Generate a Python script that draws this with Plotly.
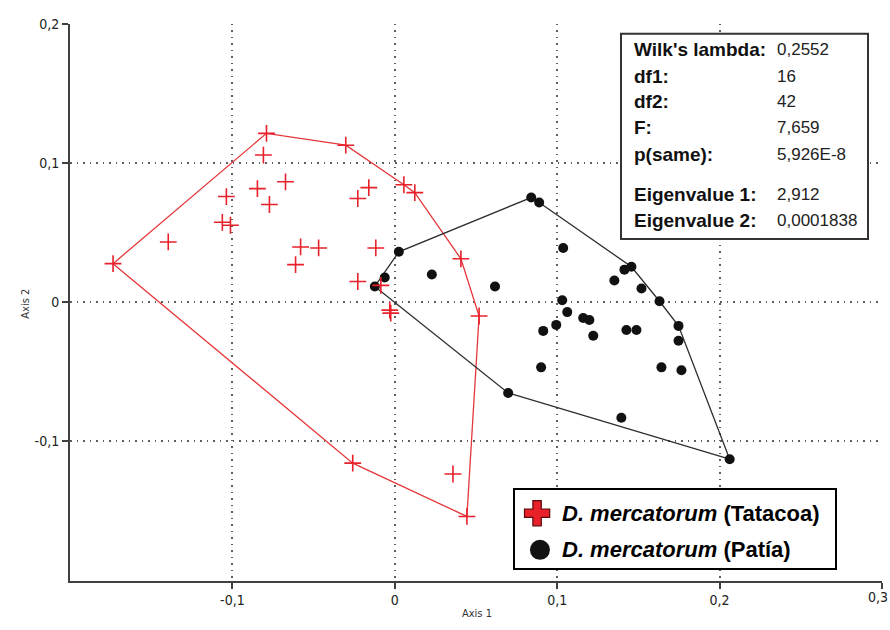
import plotly.graph_objects as go

# Discriminant scores of the two populations (Axis 1, Axis 2)
tatacoa_x = [-0.1735, -0.1395, -0.0790, -0.0809, -0.1037, -0.0846, -0.0673, -0.0772,
             -0.1062, -0.1012, -0.0580, -0.0469, -0.0611, -0.0302, -0.0228, -0.0160,
             -0.0117, -0.0228, 0.0056, 0.0123, 0.0407, 0.0519, -0.0031, -0.0025,
             -0.0086, -0.0259, 0.0358, 0.0444]
tatacoa_y = [0.0277, 0.0433, 0.1213, 0.1057, 0.0759, 0.0816, 0.0865, 0.0702,
             0.0574, 0.0553, 0.0397, 0.0390, 0.0270, 0.1128, 0.0745, 0.0823,
             0.0390, 0.0149, 0.0844, 0.0787, 0.0312, -0.0099, -0.0057, -0.0078,
             0.0121, -0.1156, -0.1234, -0.1539]

patia_x = [-0.0123, -0.0062, 0.0025, 0.0228, 0.0617, 0.0840, 0.0889, 0.1037,
           0.1031, 0.1062, 0.1160, 0.1198, 0.1222, 0.0994, 0.0914, 0.1352,
           0.1414, 0.1457, 0.1519, 0.1630, 0.1747, 0.1747, 0.1426, 0.1488,
           0.1642, 0.1765, 0.0901, 0.1395, 0.0698, 0.2062]
patia_y = [0.0113, 0.0177, 0.0362, 0.0199, 0.0113, 0.0752, 0.0716, 0.0390,
           0.0014, -0.0071, -0.0113, -0.0128, -0.0241, -0.0163, -0.0206, 0.0156,
           0.0234, 0.0255, 0.0099, 0.0007, -0.0170, -0.0277, -0.0199, -0.0199,
           -0.0468, -0.0489, -0.0468, -0.0830, -0.0652, -0.1128]

x_tickvals = [-0.1, 0, 0.1, 0.2, 0.3]
x_ticktext = ["-0,1", "0", "0,1", "0,2", "0,3"]
y_tickvals = [-0.1, 0, 0.1, 0.2]
y_ticktext = ["-0,1", "0", "0,1", "0,2"]

stats_labels = ["Wilk's lambda:", "df1:", "df2:", "F:", "p(same):",
                "Eigenvalue 1:", "Eigenvalue 2:"]
stats_values = ["0,2552", "16", "42", "7,659", "5,926E-8", "2,912", "0,0001838"]

species = "D. mercatorum"
groups = ["Tatacoa", "Patía"]

RED = "#e8202a"
RED_LINE = "#e4373a"
BLACK = "#111111"
HULL_BLACK = "#2e2e2e"

W, H = 890, 630
NARROW = "DejaVu Sans Condensed, Liberation Sans Narrow, Arial Narrow, Liberation Sans, sans-serif"
SANS = "Liberation Sans, Arial, sans-serif"
TICK_FONT = dict(family=NARROW, size=14, color="#222")


def convex_hull(xs, ys):
    pts = sorted(set(zip(xs, ys)))

    def cross(o, a, b):
        return (a[0] - o[0]) * (b[1] - o[1]) - (a[1] - o[1]) * (b[0] - o[0])

    lower = []
    for p in pts:
        while len(lower) >= 2 and cross(lower[-2], lower[-1], p) <= 0:
            lower.pop()
        lower.append(p)
    upper = []
    for p in reversed(pts):
        while len(upper) >= 2 and cross(upper[-2], upper[-1], p) <= 0:
            upper.pop()
        upper.append(p)
    hull = lower[:-1] + upper[:-1]
    hull.append(hull[0])
    return [p[0] for p in hull], [p[1] for p in hull]


def fx(px):
    return px / W


def fy(py):
    return 1 - py / H


fig = go.Figure()

hx, hy = convex_hull(tatacoa_x, tatacoa_y)
fig.add_trace(go.Scatter(x=hx, y=hy, mode="lines", line=dict(color=RED_LINE, width=1.3),
                         hoverinfo="skip", showlegend=False))
hx, hy = convex_hull(patia_x, patia_y)
fig.add_trace(go.Scatter(x=hx, y=hy, mode="lines", line=dict(color=HULL_BLACK, width=1.3),
                         hoverinfo="skip", showlegend=False))

fig.add_trace(go.Scatter(x=patia_x, y=patia_y, mode="markers", name=groups[1],
                         marker=dict(symbol="circle", size=10, color=BLACK),
                         showlegend=False))
fig.add_trace(go.Scatter(x=tatacoa_x, y=tatacoa_y, mode="markers", name=groups[0],
                         marker=dict(symbol="cross-thin", size=12,
                                     line=dict(color=RED, width=1.6)),
                         showlegend=False))

# Legend panel: its own small subplot so the symbols sit above the grid
fig.add_trace(go.Scatter(x=[0, 1, 1, 0, 0], y=[0, 0, 1, 1, 0], mode="lines",
                         fill="toself", fillcolor="white", line=dict(width=0),
                         xaxis="x2", yaxis="y2", hoverinfo="skip", showlegend=False))
fig.add_trace(go.Scatter(x=[0.069], y=[0.70], mode="markers", xaxis="x2", yaxis="y2",
                         marker=dict(symbol="cross", size=21, color=RED,
                                     line=dict(color="#5a0a0a", width=1.2)),
                         hoverinfo="skip", showlegend=False))
fig.add_trace(go.Scatter(x=[0.078], y=[0.23], mode="markers", xaxis="x2", yaxis="y2",
                         marker=dict(symbol="circle", size=20, color=BLACK),
                         hoverinfo="skip", showlegend=False))

for i, g in enumerate(groups):
    fig.add_annotation(xref="x2", yref="y2", x=0.14, y=[0.70, 0.23][i],
                       xanchor="left", yanchor="middle", showarrow=False,
                       text=f"<i>{species}</i> ({g})",
                       font=dict(family=SANS, size=22, color="#000", weight="bold"))

# Statistics panel
fig.add_shape(type="rect", xref="paper", yref="paper",
              x0=fx(621), x1=fx(868), y0=fy(26), y1=fy(234),
              line=dict(color="#333", width=2), fillcolor="white", layer="above")
row_y = [42, 69, 95, 121, 148, 189, 215]
for lab, val, ry in zip(stats_labels, stats_values, row_y):
    fig.add_annotation(xref="paper", yref="paper", x=fx(632), y=fy(ry),
                       xanchor="left", yanchor="middle", showarrow=False,
                       text=lab, font=dict(family=SANS, size=19, color="#111", weight="bold"))
    fig.add_annotation(xref="paper", yref="paper", x=fx(775), y=fy(ry),
                       xanchor="left", yanchor="middle", showarrow=False,
                       text=val, font=dict(family=SANS, size=17, color="#222"))

# Axis titles
fig.add_annotation(xref="paper", yref="paper", x=fx(477), y=fy(622), showarrow=False,
                   text="Axis 1", font=dict(family=NARROW, size=11, color="#333"))
fig.add_annotation(xref="paper", yref="paper", x=fx(17), y=fy(300), showarrow=False,
                   text="Axis 2", textangle=-90, font=dict(family=NARROW, size=11, color="#333"))

# The rightmost x label sits at the page edge: right-align it so it stays inside
x_labels_axis = list(x_ticktext[:-1]) + [""]
fig.add_annotation(xref="x", yref="paper", x=x_tickvals[-1], y=fy(586),
                   xanchor="right", yanchor="top", xshift=8, showarrow=False,
                   text=x_ticktext[-1], font=TICK_FONT)

grid = dict(showgrid=True, gridcolor="#5e5e5e", gridwidth=1.5, griddash="1.5px,5px",
            zeroline=False, showline=True, linecolor="#404040", linewidth=2,
            ticks="outside", ticklen=6, tickwidth=1.5, tickcolor="#404040",
            tickfont=TICK_FONT)

fig.update_layout(
    width=W, height=H,
    margin=dict(l=0, r=0, t=0, b=0, pad=0),
    paper_bgcolor="white", plot_bgcolor="rgba(0,0,0,0)",
    showlegend=False,
    xaxis=dict(domain=[fx(70), fx(882)], range=[-0.2, 0.3],
               tickvals=x_tickvals, ticktext=x_labels_axis, **grid),
    yaxis=dict(domain=[fy(580), fy(16)], range=[-0.2, 0.2],
               tickvals=y_tickvals, ticktext=y_ticktext, **grid),
    xaxis2=dict(domain=[fx(515), fx(835)], range=[0, 1], anchor="y2",
                showgrid=False, zeroline=False, showticklabels=False, ticks="",
                showline=True, mirror=True, linecolor="#000", linewidth=2),
    yaxis2=dict(domain=[fy(567), fy(488)], range=[0, 1], anchor="x2",
                showgrid=False, zeroline=False, showticklabels=False, ticks="",
                showline=True, mirror=True, linecolor="#000", linewidth=2),
)

fig.write_html("out.html")
